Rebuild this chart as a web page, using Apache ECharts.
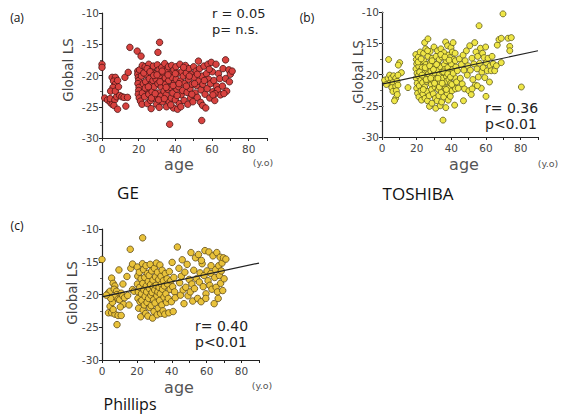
<!DOCTYPE html>
<html>
<head>
<meta charset="utf-8">
<script src="https://cdn.jsdelivr.net/npm/echarts@6/dist/echarts.min.js"></script>
<style>
  html, body { margin: 0; padding: 0; background: #fff; }
  #chart { width: 582px; height: 416px; }
</style>
</head>
<body>
<div id="chart"></div>
<script>
// [age (y.o), Global LS]
const geData = [
  [0, -18.2], [0, -18.7],
  [1.5, -23.6], [3, -23.9], [4.5, -24.3], [5.5, -24.6], [4.5, -23.7], [7, -23.9], [8, -23.4], [6.5, -24.8],
  [5.5, -20.3], [7.3, -20.3], [6.3, -20.9], [7.3, -21.4], [6, -21.9], [4.7, -22.5], [7.3, -22.5], [9, -21.8], [8.5, -20.8],
  [9.6, -23.2], [8.5, -25.4], [10.8, -23.4], [12, -23.5], [13.9, -23.5], [12.5, -20.3], [14.3, -19.5], [13, -24.9], [15.2, -15.5],
  [19.2, -16.1], [21.3, -16.9], [19.5, -19.3], [19.5, -19.8], [19.8, -20.3], [20, -20.8], [19.6, -21.3], [20.2, -21.9],
  [20, -22.4], [19.8, -23], [20.3, -23.6], [21, -24.1], [20.5, -19.1], [21.5, -20.1], [22, -18.4], [22.5, -21.3], [22, -22.8], [21.8, -24.6],
  [23.5, -18.6], [24, -19.8], [23.8, -21], [24.5, -22.2], [23.2, -23.4], [24.8, -24.5], [25.5, -18.2], [25.8, -20.5], [26, -21.6],
  [25.5, -23], [26.5, -24], [27, -19.2], [27.3, -22.6], [26.8, -25.3], [27.8, -20.8], [28, -18.5],
  [28.5, -21.8], [28.8, -23.6], [29.2, -19.7], [29.5, -20.6], [29.8, -24.6], [30.2, -18.3], [30.5, -21.3], [30.5, -22.8], [31, -19.1],
  [31.2, -25.1], [31.4, -14.7], [30.5, -16.3], [31.8, -20.2], [32, -23.3], [32.3, -21.8], [32.6, -18.7], [33, -20.9], [33, -24.2],
  [33.5, -19.6], [33.8, -22.5],
  [34.2, -18.1], [34.5, -20.4], [34.6, -21.4], [35, -23.1], [35.2, -25], [35.5, -19.2], [35.8, -22.2], [36.2, -18.6], [36.4, -20.8],
  [36.6, -24.2], [36.9, -27.8], [37.2, -19.8], [37.4, -21.9], [37.8, -23.6], [38, -18.4], [38.3, -20.3], [38.6, -22.8], [39, -25.2],
  [39.2, -19.1], [39.5, -21.2],
  [40, -23.9], [40.3, -18.6], [40.5, -20.6], [40.8, -22.2], [41.2, -25.4], [41.5, -19.6], [41.8, -21.8], [42.2, -24.5], [42.5, -18.2],
  [42.8, -20.9], [43.2, -23.1], [43.6, -19.4], [44, -22.4], [44.3, -20.1], [44.8, -24], [45, -21.3],
  [45.5, -18.4], [46, -19.6], [46.4, -22.7], [46.8, -24.6], [47.2, -20.6], [47.5, -18.9], [48, -22.1], [48.3, -23.6], [48.8, -19.8],
  [49.2, -21.4], [49.6, -24.2], [50, -18.6], [50.4, -20.3], [50.8, -22.8], [51.3, -19.3], [51.6, -21.6], [52, -23.5], [52.6, -17.7],
  [52.8, -20.9], [53.2, -18.9], [53.8, -24.3], [54.9, -24.8], [54.4, -27.2], [54, -22.3], [54.5, -20.1], [55, -21.4],
  [55.6, -18.5], [56.2, -23], [56.6, -25.2], [57, -19.7], [57.8, -18.2], [57.4, -22.1], [58.2, -20.6], [58.8, -23.6], [59.2, -21.3],
  [59.6, -17.9], [60.2, -19.4], [60.5, -22.6], [61, -20.8], [61.5, -24], [62.2, -18.2], [62.5, -21.7], [63.1, -22.3], [63.5, -19.7],
  [64.2, -20.5], [64.6, -23.1], [65.7, -21.7], [66, -18.9], [67.4, -17.5], [67.4, -20.5], [68, -22.5], [69.2, -19.1], [70, -19.8],
  [71, -19.3], [69.5, -21],
  [22.8, -19.6], [23.6, -22], [24.6, -18.9], [25.3, -21.8], [26.2, -19.4], [27, -23.6], [28.2, -20], [29, -22.9], [30, -19.9],
  [30.9, -23.9], [31.6, -21], [32.8, -19.3], [34, -23.7], [35, -21.9], [36, -19.9], [37.5, -24.7], [38.8, -21.6], [40, -19.7],
  [41, -23.2], [42, -21.3], [43, -25], [44.5, -18.7], [46, -21.7], [47.6, -20.1], [49, -23], [50.5, -21.3], [52, -19.8],
  [55.8, -20.8], [58.5, -19], [61.6, -22.9], [60.5, -23.1], [66.5, -22.9]
];

const toshibaData = [
  [1.5, -20.9], [3.5, -20.6], [4.4, -20.1], [5.4, -20.6], [3.8, -17.6], [6.7, -20.2], [7.9, -20.6], [4.4, -21.4], [6.3, -21.3],
  [8.7, -21.1], [5.6, -22.1], [7.9, -21.9], [9.2, -21.7], [6.3, -22.7], [8.3, -22.6], [7.9, -23.8], [10.2, -18.1], [9.4, -18.5],
  [11.2, -19.7], [15, -22.1], [9.2, -20.1], [2.5, -21.6], [8.8, -23.2], [7.2, -24.2],
  [19.5, -16.8], [19.8, -17.6], [20, -18.3], [19.6, -19.1], [20.2, -19.8], [19.8, -20.6], [20.3, -21.4], [20, -22.2], [20.5, -23],
  [21, -17.2], [21.2, -18.7], [21, -20.2], [21.5, -21.8], [21.3, -23.6], [22, -16.4], [22.2, -19.4], [22.4, -20.9], [22.5, -22.6],
  [22.8, -24.1], [23, -17.9], [23.2, -18.9], [23.4, -21.3], [23.6, -23.1], [24, -16.6], [24.2, -17.8], [24.5, -19.6], [24.4, -20.4],
  [24.6, -22], [24.8, -23.8], [24.6, -14.9], [26.5, -14.3], [25.2, -15.9], [25.4, -18.4], [25.6, -19.2], [25.8, -21.1], [26, -22.7],
  [26.2, -24.2], [26.5, -17.1], [26.8, -19.9], [27, -20.8], [27.2, -23.4], [27.4, -25.1], [27.8, -16.3], [28, -18.1], [28.2, -19.5],
  [28.4, -21.6], [28.6, -22.4], [28.8, -24.6], [29, -17.4], [29.2, -20.2], [29.5, -21], [29.6, -23.1], [30, -15.6], [30.2, -18.6],
  [30.4, -19.7], [30.6, -22], [30.8, -23.8], [31, -25.4], [31.2, -17.1], [31.4, -20.7], [31.6, -21.6], [31.8, -24.2], [32, -16.2],
  [32.2, -18.2], [32.4, -19.3], [32.6, -22.4], [32.8, -23.4], [33, -17.6], [33.2, -20], [33.4, -21.2], [33.6, -25], [33.8, -18.8],
  [34, -15.9], [34.2, -22.8], [34.4, -24.4], [34.6, -17.2], [34.8, -19.6], [35, -20.6], [35.2, -27.3], [35.4, -21.8], [35.6, -23.6],
  [35.8, -16.5], [36, -18.4], [36.2, -19.2], [36.4, -22.3], [36.7, -14.8], [36.8, -25.3], [37, -17.8], [37.2, -20.3], [37.4, -21.1],
  [37.6, -23], [37.8, -15.4], [38, -18.9], [38.2, -24.1], [38.4, -16.9], [38.6, -20.8], [38.8, -22.1], [39, -19.6], [39.2, -17.3],
  [39.4, -23.5], [39.6, -21.4], [39.8, -15.7], [40, -18.3], [40.2, -20.1], [40.4, -22.6], [40.6, -16.4], [41, -14.9], [40.8, -19.2],
  [41.2, -21.8], [41.4, -17.6], [41.9, -24.9], [42, -20.5], [42.2, -16.6], [42.4, -22.3], [42.6, -18.8],
  [20.8, -18], [21.7, -19.6], [22.6, -17.5], [23.1, -20.1], [23.8, -22.4], [24.9, -18.9], [25.5, -20.8], [26.3, -16.2], [27.5, -18.6],
  [28.1, -20.6], [28.9, -17.8], [29.7, -19.2], [30.3, -21.4], [31.5, -18.4], [32.3, -20.6], [33.1, -22], [33.9, -16.8], [34.7, -21.4],
  [35.5, -19.6], [36.3, -17.2], [37.1, -22.4], [37.9, -19.9], [38.7, -17.7], [39.5, -20.4], [40.3, -21.6], [41.1, -19.8], [42.3, -17.8],
  [43, -21.2], [43.5, -19.4], [44, -22.2],
  [44.6, -17.5], [45.2, -20.6], [45.8, -18.4], [46.3, -21.5], [46.8, -16.9], [47.2, -19.3], [47.6, -22.3], [48, -17.8], [48.7, -16.2],
  [49.2, -20.1], [49.6, -18.6], [50.1, -22.6], [50.6, -15.4], [51, -19.3], [51.5, -23.2], [51.9, -17.4], [52.4, -20.8], [53, -18.3],
  [53.5, -14.9], [53.8, -21.7], [54.2, -16.4], [54.8, -19.1], [55.2, -17.1], [55.6, -20.4], [56, -12.2], [56.3, -18.2], [56.8, -15.8],
  [57.3, -22.2], [57.6, -19.6], [58, -16.6], [58.4, -18.9], [58.9, -17.3], [59.3, -20.5], [59.8, -15.6], [60.2, -18.1], [60.7, -19.4],
  [61.2, -17.4], [62, -21.2], [62.4, -18.6], [63, -19.4], [63.5, -17.1], [64.2, -18.3], [65, -19.4], [66, -18.6], [66.5, -15.3],
  [67.5, -14.4], [68.8, -14.2], [68.8, -18.1], [69.8, -10.3], [72.7, -14.2], [74.6, -14.1], [73.7, -15.5], [73.7, -16.2], [80.4, -22],
  [60, -23.5], [55, -21.8], [47, -24.2], [52, -22.3]
];

const phillipsData = [
  [0, -14.65], [3.7, -19.75], [4.6, -19.5], [5.5, -17.5], [6.4, -18.3], [7.4, -18.7], [7, -19.2], [8.3, -19.5], [8.6, -20],
  [7.4, -20.4], [9.2, -20.7], [10.1, -20.8], [9.7, -16.25], [11, -19.8], [11.9, -20.2], [12.9, -20.5], [12.3, -21.5], [14.7, -20.15],
  [14.3, -17.25], [16.5, -16], [17.5, -15.35], [16.2, -13.1], [17.5, -19.25], [18.4, -19.5], [3.7, -22.8], [5.5, -22.8], [7.4, -23],
  [9.2, -23.2], [11, -23.2], [4.6, -21.8], [6.4, -22.3], [8.6, -24.6], [6, -21.2], [10.5, -21.9], [5, -20.6], [12, -18.4],
  [15.5, -21.6], [2.5, -20.1],
  [20.2, -15.8], [20.5, -17.2], [20.3, -18.4], [20.8, -19.6], [20.6, -20.6], [21, -22.1], [21.4, -16.6], [21.6, -18.9], [21.8, -21.1],
  [22.2, -23.4], [22.4, -17.6], [22.6, -19.9], [22.8, -20.9], [23.3, -11.35], [23.2, -15.3], [23.4, -18.3], [23.6, -22.4], [23.8, -16.2],
  [24, -19.3], [24.2, -21.6], [24.5, -17.4], [24.7, -20.3], [25, -22.9], [25.2, -15.6], [25.4, -18.7], [25.6, -19.6], [25.8, -21.2],
  [26, -16.8], [26.3, -23.3], [26.5, -18], [26.7, -20.6], [27, -17.1], [27.2, -19.1], [27.4, -22], [27.6, -15.4], [27.8, -18.5],
  [28, -20.1], [28.2, -21.7], [28.5, -16.4], [28.7, -19.7], [29, -23.6], [29.2, -17.8], [29.4, -18.9], [29.6, -20.8], [29.8, -22.6],
  [30, -16], [30.2, -19.3], [30.4, -21.3], [30.7, -17.3], [31, -18.6], [31.2, -15.2], [31.4, -20.2], [31.6, -23.1], [31.8, -16.6],
  [32, -19.6], [32.2, -22.1], [32.5, -17.7], [32.7, -18.9], [33, -20.9], [33.2, -15.5], [33.4, -19.9], [33.6, -22.9], [33.8, -17.2],
  [34, -18.4], [34.3, -21.6], [34.5, -16.3], [34.7, -19.2], [35, -22.5], [35.2, -17.9], [35.5, -20.4], [35.8, -18.7], [36, -23],
  [36.3, -16.8], [36.6, -19.9], [37, -21.2], [37.3, -17.6], [37.6, -18.4], [38, -20.6], [38.3, -22.8], [38.6, -16.5], [39, -19.2],
  [39.4, -17.9], [39.8, -21.1], [40.2, -15.1], [40.5, -18.8], [40.8, -22.6], [41.2, -17.4], [41.6, -19.6], [42, -20.5],
  [43.2, -12.75], [44.1, -16], [44.5, -18.2], [45, -20.1], [45.5, -17.2], [46, -14.7], [46.5, -19.3], [47, -21.4], [47.5, -16.6],
  [48, -18.9], [48.8, -15.4], [49.3, -20.2], [50, -17.7], [50.6, -19.6], [51, -13.6], [51.5, -18.4], [52, -21], [52.6, -16.3],
  [53, -19.1], [53.6, -14.4], [54.2, -17.6], [54.8, -20.6], [55.3, -13.9], [55.8, -18.1], [56.2, -16.7], [56.8, -21.1], [57.4, -15.3],
  [58, -18.8], [58.5, -17.1], [59, -13.3], [59.6, -19.9], [60.2, -16.4], [60.8, -17.9], [61.3, -13.5], [61.8, -18.6], [62.4, -16.8],
  [63, -19.2], [63.6, -14.1], [64.3, -21.4], [64.6, -17.4], [65, -16.2], [65.4, -18.9], [65.8, -13.6], [66.2, -19.6], [66.6, -20.6],
  [66.9, -15.6], [67.3, -17.1], [67.7, -14.3], [68, -18.3], [68.4, -16.4], [68.8, -15.2], [69.2, -19.4], [69.6, -14.4], [70, -17.6],
  [71, -14.6], [59.5, -20.6], [62.5, -15.6], [57, -14.8]
];

// regression lines (end points)
const toshibaFit = [[0, -21.55], [90, -16.2]];
const phillipsFit = [[0, -20.35], [90, -15.2]];

const xTickLabels = [0, 20, 40, 60, 80];

const tickFont = 'DejaVu Sans';
const axisColor = '#222';

function xAxisCfg(gridIndex) {
  return {
    type: 'value', gridIndex, min: 0, max: 90, interval: 10,
    axisLine: { show: true, onZero: false, lineStyle: { color: axisColor, width: 1.2 } },
    axisTick: { show: true, length: 3, lineStyle: { color: axisColor } },
    axisLabel: {
      color: '#444', fontSize: 10.5, fontFamily: tickFont, margin: 5,
      formatter: v => xTickLabels.includes(v) ? String(v) : ''
    },
    splitLine: { show: false }
  };
}

function yAxisCfg(gridIndex) {
  return {
    type: 'value', gridIndex, min: -30, max: -10, interval: 5,
    axisLine: { show: true, onZero: false, lineStyle: { color: axisColor, width: 1.2 } },
    axisTick: { show: true, length: 3, lineStyle: { color: axisColor } },
    minorTick: { show: true, splitNumber: 2, length: 2, lineStyle: { color: '#666' } },
    axisLabel: { color: '#444', fontSize: 10.5, fontFamily: tickFont, margin: 3 },
    splitLine: { show: false }
  };
}

function txt(text, x, y, size, family, opts = {}) {
  return {
    type: 'text', x, y, rotation: opts.rotation || 0,
    style: {
      text, fontSize: size, fontFamily: family, fill: opts.color || '#333',
      align: opts.align || 'center', verticalAlign: 'middle',
      textAlign: opts.align || 'center', textVerticalAlign: 'middle'
    }
  };
}

const chart = echarts.init(document.getElementById('chart'), null, { renderer: 'svg' });

chart.setOption({
  animation: false,
  backgroundColor: '#fff',
  grid: [
    { left: 102, top: 13, width: 165, height: 125 },
    { left: 382, top: 12, width: 156, height: 125 },
    { left: 102, top: 229, width: 157, height: 131 }
  ],
  xAxis: [xAxisCfg(0), xAxisCfg(1), xAxisCfg(2)],
  yAxis: [
    yAxisCfg(0), yAxisCfg(1), yAxisCfg(2),
    // faint tick marks at the right edge of panel (b)
    {
      type: 'value', gridIndex: 1, position: 'right', offset: 22, min: -30, max: -10, interval: 5,
      axisLine: { show: true, lineStyle: { color: 'rgba(0,0,0,0)' } },
      axisTick: { show: true, length: 2, lineStyle: { color: '#999', width: 1.2 } },
      axisLabel: { show: false },
      splitLine: { show: false }
    }
  ],
  series: [
    {
      type: 'scatter', xAxisIndex: 0, yAxisIndex: 0, data: geData, symbolSize: 6.5,
      itemStyle: { color: '#d8423f', borderColor: '#4a1414', borderWidth: 0.8, opacity: 1 }
    },
    {
      type: 'scatter', xAxisIndex: 1, yAxisIndex: 1, data: toshibaData, symbolSize: 6,
      itemStyle: { color: '#efe646', borderColor: '#5e5a1c', borderWidth: 0.8, opacity: 1 }
    },
    {
      type: 'line', xAxisIndex: 1, yAxisIndex: 1, data: toshibaFit, symbol: 'none',
      lineStyle: { color: '#222', width: 1.2 }, z: 5
    },
    {
      type: 'scatter', xAxisIndex: 2, yAxisIndex: 2, data: phillipsData, symbolSize: 6.5,
      itemStyle: { color: '#e9c23a', borderColor: '#5e4a18', borderWidth: 0.8, opacity: 1 }
    },
    {
      type: 'line', xAxisIndex: 2, yAxisIndex: 2, data: phillipsFit, symbol: 'none',
      lineStyle: { color: '#222', width: 1.2 }, z: 5
    }
  ],
  graphic: [
    // panel (a)
    txt('(a)', 17, 17, 12, 'Open Sans', { color: '#111' }),
    txt('Global LS', 68, 70, 13.5, 'DejaVu Sans', { rotation: Math.PI / 2, color: '#444' }),
    txt('age', 179, 164, 16, 'DejaVu Sans', { color: '#555' }),
    txt('(y.o)', 263, 162, 9.5, 'DejaVu Sans', { color: '#555' }),
    txt('r = 0.05', 212, 13, 13, 'DejaVu Sans', { align: 'left', color: '#222' }),
    txt('p= n.s.', 212, 29, 13, 'DejaVu Sans', { align: 'left', color: '#222' }),
    txt('GE', 128, 192, 17, 'Open Sans', { color: '#111' }),
    // panel (b)
    txt('(b)', 307, 17, 12, 'Open Sans', { color: '#111' }),
    txt('Global LS', 358, 72, 13.5, 'DejaVu Sans', { rotation: Math.PI / 2, color: '#444' }),
    txt('age', 464, 164, 16, 'DejaVu Sans', { color: '#555' }),
    txt('(y.o)', 548, 163, 9.5, 'DejaVu Sans', { color: '#555' }),
    txt('r= 0.36', 485, 108, 14, 'DejaVu Sans', { align: 'left', color: '#222' }),
    txt('p<0.01', 485, 124, 14, 'DejaVu Sans', { align: 'left', color: '#222' }),
    txt('TOSHIBA', 418, 193, 17, 'Open Sans', { color: '#111' }),
    // panel (c)
    txt('(c)', 17, 225, 12, 'Open Sans', { color: '#111' }),
    txt('Global LS', 72, 293, 13.5, 'DejaVu Sans', { rotation: Math.PI / 2, color: '#444' }),
    txt('age', 179, 387, 16, 'DejaVu Sans', { color: '#555' }),
    txt('(y.o)', 262, 385, 9.5, 'DejaVu Sans', { color: '#555' }),
    txt('r= 0.40', 195, 326, 14, 'DejaVu Sans', { align: 'left', color: '#222' }),
    txt('p<0.01', 195, 342, 14, 'DejaVu Sans', { align: 'left', color: '#222' }),
    txt('Phillips', 130, 404, 16, 'Open Sans', { color: '#111' })
  ]
});
</script>
</body>
</html>
